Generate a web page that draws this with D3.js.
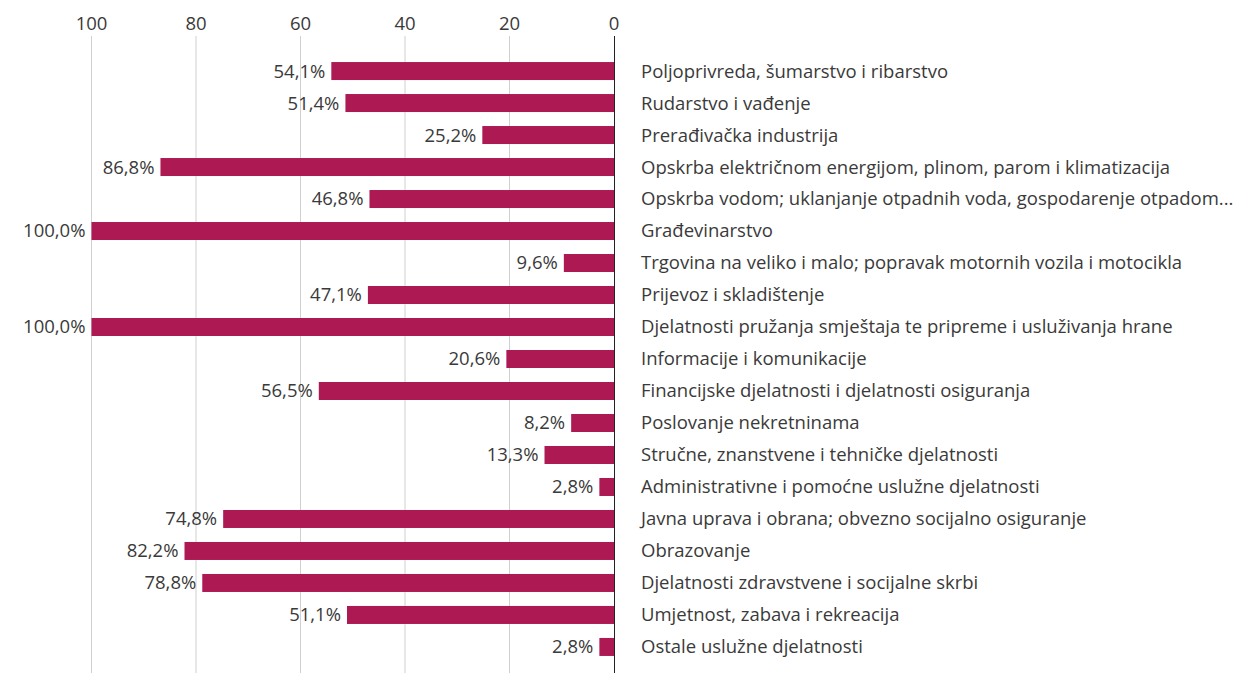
<!DOCTYPE html>
<html>
<head>
<meta charset="utf-8">
<script src="https://cdn.jsdelivr.net/npm/d3@7"></script>
<style>
  body { margin: 0; background: #fff; }
  text { font-family: "Open Sans", sans-serif; fill: #3a3a3a; }
</style>
</head>
<body>
<script>
    var w = 1253;
    var h = 673;

    // Categories (top to bottom)
    var categories = [
        "Poljoprivreda, šumarstvo i ribarstvo",
        "Rudarstvo i vađenje",
        "Prerađivačka industrija",
        "Opskrba električnom energijom, plinom, parom i klimatizacija",
        "Opskrba vodom; uklanjanje otpadnih voda, gospodarenje otpadom...",
        "Građevinarstvo",
        "Trgovina na veliko i malo; popravak motornih vozila i motocikla",
        "Prijevoz i skladištenje",
        "Djelatnosti pružanja smještaja te pripreme i usluživanja hrane",
        "Informacije i komunikacije",
        "Financijske djelatnosti i djelatnosti osiguranja",
        "Poslovanje nekretninama",
        "Stručne, znanstvene i tehničke djelatnosti",
        "Administrativne i pomoćne uslužne djelatnosti",
        "Javna uprava i obrana; obvezno socijalno osiguranje",
        "Obrazovanje",
        "Djelatnosti zdravstvene i socijalne skrbi",
        "Umjetnost, zabava i rekreacija",
        "Ostale uslužne djelatnosti"
    ];

    // Share in percent
    var values = [54.1, 51.4, 25.2, 86.8, 46.8, 100.0, 9.6, 47.1, 100.0, 20.6,
                  56.5, 8.2, 13.3, 2.8, 74.8, 82.2, 78.8, 51.1, 2.8];

    var ticks = [100, 80, 60, 40, 20, 0];

    var svg = d3.select("body")
                .append("svg")
                .attr("width", w)
                .attr("height", h);

    // Reversed axis: 0 on the right
    var x = d3.scaleLinear()
              .domain([0, 100])
              .range([614, 91.5]);

    var y = d3.scaleBand()
              .domain(categories)
              .range([55, 663])
              .paddingInner(0.4375)
              .paddingOuter(0.22);

    // Gridlines
    svg.selectAll("line.grid")
       .data(ticks.filter(d => d !== 0))
       .enter()
       .append("line")
       .attr("class", "grid")
       .attr("x1", d => x(d))
       .attr("x2", d => x(d))
       .attr("y1", 36)
       .attr("y2", h)
       .attr("stroke", "#d0d0d0")
       .attr("stroke-width", 1);

    // Tick labels on top
    svg.selectAll("text.tick")
       .data(ticks)
       .enter()
       .append("text")
       .attr("class", "tick")
       .attr("x", d => x(d))
       .attr("y", 30)
       .attr("text-anchor", "middle")
       .style("font-size", "18.5px")
       .text(d => d);

    // Bars
    svg.selectAll("rect")
       .data(values)
       .enter()
       .append("rect")
       .attr("x", d => x(d))
       .attr("y", (d, i) => y(categories[i]))
       .attr("width", d => x(0) - x(d))
       .attr("height", y.bandwidth())
       .attr("fill", "#ad1953");

    // Zero axis line
    svg.append("line")
       .attr("x1", x(0) + 0.5)
       .attr("x2", x(0) + 0.5)
       .attr("y1", 36)
       .attr("y2", h)
       .attr("stroke", "#222")
       .attr("stroke-width", 1);

    // Value labels
    svg.selectAll("text.value")
       .data(values)
       .enter()
       .append("text")
       .attr("class", "value")
       .attr("x", d => x(d) - 6)
       .attr("y", (d, i) => y(categories[i]) + y.bandwidth() / 2)
       .attr("dy", "0.35em")
       .attr("text-anchor", "end")
       .style("font-size", "18.5px")
       .text(d => d.toFixed(1).replace(".", ",") + "%");

    // Category labels
    svg.selectAll("text.cat")
       .data(categories)
       .enter()
       .append("text")
       .attr("class", "cat")
       .attr("x", x(0) + 27)
       .attr("y", d => y(d) + y.bandwidth() / 2)
       .attr("dy", "0.35em")
       .style("font-size", "18.5px")
       .text(d => d);
</script>
</body>
</html>
